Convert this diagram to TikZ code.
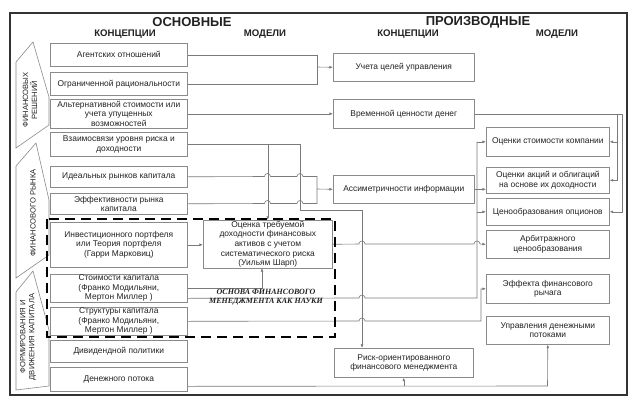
\documentclass[tikz,border=0pt]{standalone}
\usepackage{fontspec}
\setmainfont{Liberation Sans}
\newfontfamily\serifbi{Liberation Serif}
\usetikzlibrary{arrows.meta,calc}
\definecolor{boxgray}{HTML}{8A8A8A}
\definecolor{linegray}{HTML}{7A7A7A}
\definecolor{txt}{HTML}{222222}
\begin{document}
\begin{tikzpicture}[x=1pt,y=-1pt,
  box/.style={draw=boxgray,line width=0.6pt,fill=white,align=center,text=txt,
    font=\fontsize{8.4}{9.6}\selectfont,inner sep=0.5pt,anchor=north west},
  conn/.style={draw=linegray,line width=0.6pt},
  arr/.style={conn,-{Latex[length=3.6pt,width=2.8pt]}},
  side/.style={draw=boxgray,line width=0.6pt},
  sidetxt/.style={rotate=90,align=center,text=txt,font=\fontsize{7.6}{9}\selectfont},
  ttl/.style={text=txt,font=\bfseries\fontsize{13}{15}\selectfont},
  sub/.style={text=txt,font=\bfseries\fontsize{9.6}{11}\selectfont}]
\useasboundingbox (0,0) rectangle (637,402);
\fill[white] (0,0) rectangle (637,402);
\draw[line width=1.2pt,draw=black!80] (10,13) rectangle (627,395);

% titles
\node[ttl] (t1) at (192,22) {ОСНОВНЫЕ};
\node[ttl] (t2) at (478,22) {ПРОИЗВОДНЫЕ};
\node[sub] (s1) at (125,34.5) {КОНЦЕПЦИИ};
\node[sub] (s2) at (265,34.5) {МОДЕЛИ};
\node[sub] (s3) at (408,34.5) {КОНЦЕПЦИИ};
\node[sub] (s4) at (557,34.5) {МОДЕЛИ};

% side shapes
\draw[side] (16,62) -- (33,42) -- (49,97) -- (49,125) -- (16,148) -- cycle;
\draw[side] (16,166) -- (36,143) -- (49,200) -- (49,255) -- (16,278) -- cycle;
\draw[side] (16,292) -- (33,271) -- (49,330) -- (49,386) -- (16,390) -- cycle;
\node[sidetxt] (l1) at (30,100) {ФИНАНСОВЫХ\\РЕШЕНИЙ};
\node[sidetxt] (l2) at (33,213) {ФИНАНСОВОГО РЫНКА};
\node[sidetxt] (l3) at (28,337) {ФОРМИРОВАНИЯ И\\ДВИЖЕНИЯ КАПИТАЛА};

% left concept boxes
\node[box,minimum width=137,minimum height=23] (a1) at (50,43) {Агентских отношений};
\node[box,minimum width=137,minimum height=23] (a2) at (50,72) {Ограниченной рациональности};
\node[box,minimum width=137,minimum height=29] (a3) at (50,99) {Альтернативной стоимости или\\учета упущенных\\возможностей};
\node[box,minimum width=137,minimum height=24] (a4) at (50,132) {Взаимосвязи уровня риска и\\доходности};
\node[box,minimum width=137,minimum height=21] (a5) at (50,166) {Идеальных рынков капитала};
\node[box,minimum width=137,minimum height=21] (a6) at (50,193) {Эффективности рынка\\капитала};
\node[box,minimum width=137,minimum height=45] (a7) at (50,222) {Инвестиционного портфеля\\или Теория портфеля\\(Гарри Марковиц)};
\node[box,minimum width=137,minimum height=28] (a8) at (50,274) {Стоимости капитала\\(Франко Модильяни,\\Мертон Миллер )};
\node[box,minimum width=137,minimum height=28] (a9) at (50,307) {Структуры капитала\\(Франко Модильяни,\\Мертон Миллер )};
\node[box,minimum width=137,minimum height=22] (a10) at (50,340) {Дивидендной политики};
\node[box,minimum width=137,minimum height=24] (a11) at (50,367) {Денежного потока};

% left model box
\node[box,minimum width=129,minimum height=48] (m1) at (203,220) {Оценка требуемой\\доходности финансовых\\активов с учетом\\систематического риска\\(Уильям Шарп)};

% right concept boxes
\node[box,minimum width=141,minimum height=28] (b1) at (333,53) {Учета целей управления};
\node[box,minimum width=141,minimum height=29] (b2) at (333,99) {Временной ценности денег};
\node[box,minimum width=141,minimum height=28] (b3) at (333,175) {Ассиметричности информации};
\node[box,minimum width=139,minimum height=29] (b4) at (334,348) {Риск-ориентированного\\финансового менеджмента};

% right model boxes
\node[box,minimum width=123,minimum height=29] (c1) at (486,127) {Оценки стоимости компании};
\node[box,minimum width=123,minimum height=26] (c2) at (486,167) {Оценки акций и облигаций\\на основе их доходности};
\node[box,minimum width=123,minimum height=27] (c3) at (486,198) {Ценообразования опционов};
\node[box,minimum width=123,minimum height=28] (c4) at (486,230) {Арбитражного\\ценообразования};
\node[box,minimum width=123,minimum height=29] (c5) at (486,274) {Эффекта финансового\\рычага};
\node[box,minimum width=123,minimum height=28] (c6) at (486,316) {Управления денежными\\потоками};

% helper coordinates (x positions of vertical lines)
\coordinate (J1) at (317,67);
\coordinate (J2) at (317,189);
\coordinate (V2) at (300,0);
\coordinate (V3) at (362,0);
\coordinate (X1) at (477,0);
\coordinate (X2) at (617,0);
\coordinate (X3) at (622,0);
\coordinate (X4) at (481,0);
\coordinate (m1b) at (262,268);

% upper left connectors
\draw[conn] (a1.east) -| (J1);
\draw[conn] (a2.east) -| (J1);
\draw[arr] (J1) -- (b1.west);
\draw[arr] (a3.east) -- (b2.west);

% risk-return
\draw[conn] (a4.east) -- (a4.east -| V2);
\draw[arr] (a4.east -| m1.north) -- (m1.north);
\draw[arr] (a4.east -| V2) -- (300,210) -- (362,210) -- (b4.north west -| V3);

% perfect & efficient market (with jumps)
\draw[conn] (a5.east) -- (264.5,176.5) arc[start angle=180,end angle=360,radius=3]
  -- (297,176.5) arc[start angle=180,end angle=360,radius=3] -- (317,176.5) -- (J2);
\draw[conn] (a6.east) -- (264.5,203.5) arc[start angle=180,end angle=360,radius=3]
  -- (297,203.5) arc[start angle=180,end angle=360,radius=3] -- (317,203.5) -- (J2);
\draw[arr] (J2) -- (b3.west);

% portfolio
\draw[arr] (a7.east) -- (a7.east -| m1.west);
% model -> arbitrage
\draw[arr] (m1.east) -- (359,244) arc[start angle=180,end angle=360,radius=3]
  -- (474,244) arc[start angle=180,end angle=360,radius=3] -- (c4.west);

% cost of capital
\draw[arr] (a8.east) -| (m1b);
\draw[conn] ($(a8.east)+(0,10)$) -- (359,298) arc[start angle=180,end angle=360,radius=3]
  -- (477,298) -- (c1.west -| X1);
\draw[arr] (c1.west -| X1) -- (c1.west);
\draw[arr] (c3.west -| X1) -- (c3.west);
\draw[arr] (b3.east) -- (b3.east -| c2.west);

% capital structure
\draw[arr] (a9.east) -- (359,321) arc[start angle=180,end angle=360,radius=3]
  -- (481,321) -- (c5.west -| X4) -- (c5.west);

% cash flow
\draw[arr] ($(a11.east)+(0,7)$) -- (547.5,386) -- (c6.south);
\draw[arr] (b4.south |- 0,386) -- (b4.south);

% time value of money
\draw[conn] (b2.east) -- (b2.east -| X3);
\draw[arr] (b2.east -| X3) -- (c3.east -| X3) -- (c3.east);
\draw[arr] (b2.east -| X2) -- (c2.east -| X2) -- (c2.east);
\draw[arr] (c1.east -| X2) -- (c1.east);

% dashed frame and label
\draw[line width=2.2pt,dash pattern=on 10pt off 6pt] (47,219) rectangle (335,337);
\node[align=center,text=txt,font=\serifbi\bfseries\itshape\fontsize{8}{9}\selectfont] (lbl) at (266,297.5) {ОСНОВА ФИНАНСОВОГО\\МЕНЕДЖМЕНТА КАК НАУКИ};
\end{tikzpicture}
\end{document}
